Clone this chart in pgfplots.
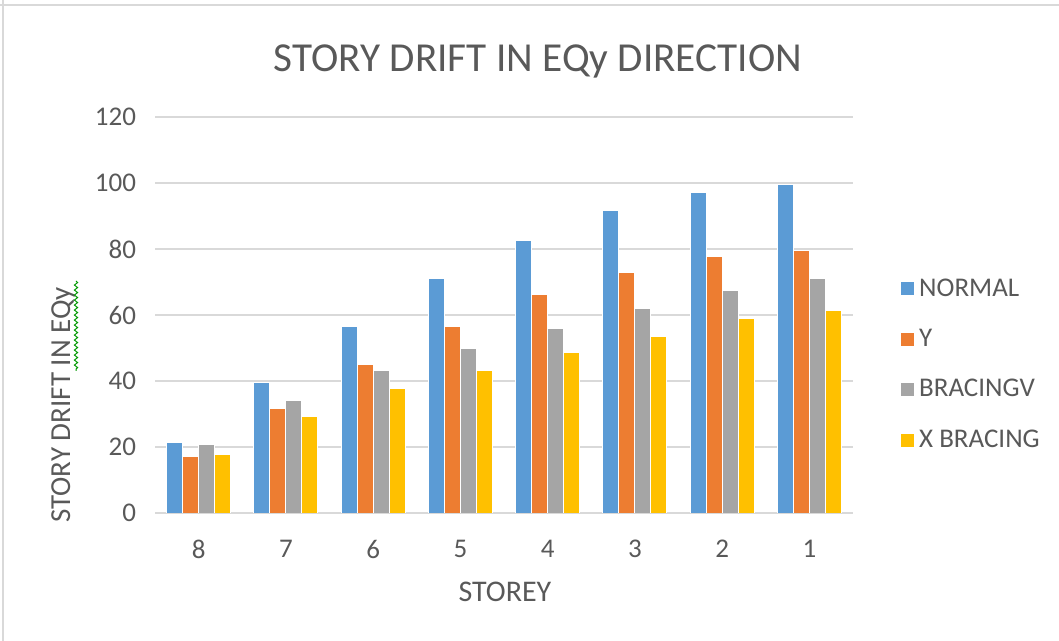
\documentclass[border=0pt]{standalone}
\usepackage{pgfplots}
\pgfplotsset{compat=1.18}
\usepackage{fontspec}
\setmainfont{Carlito}
\usetikzlibrary{decorations.pathmorphing}
\definecolor{cblue}{HTML}{5B9BD5}
\definecolor{corange}{HTML}{ED7D31}
\definecolor{cgray}{HTML}{A5A5A5}
\definecolor{cyellow}{HTML}{FFC000}
\definecolor{ctext}{HTML}{595959}
\definecolor{cgrid}{HTML}{D9D9D9}
\begin{document}
\begin{tikzpicture}[x=1pt,y=1pt]
\path[use as bounding box] (0,0) rectangle (529.5,320.5);
\draw[cgrid,line width=0.8pt] (1.5,320.5) -- (1.5,0);
\draw[cgrid,line width=0.8pt] (0,318) -- (529.5,318);
\begin{axis}[
  at={(77.5pt,64pt)}, anchor=south west,
  scale only axis, width=349pt, height=198pt,
  ybar=0pt, bar width=8pt,
  xmin=-0.5, xmax=7.5, ymin=0, ymax=120,
  xtick=data, xticklabels={8,7,6,5,4,3,2,1},
  ytick={0,20,40,60,80,100,120},
  major tick length=0pt,
  axis x line*=bottom, axis y line*=left,
  x axis line style={cgrid,line width=0.8pt},
  y axis line style={draw=none},
  ymajorgrids, grid style={cgrid,line width=0.8pt},
  tick label style={font=\fontsize{13.5}{16}\selectfont,text=ctext},
  /pgf/number format/assume math mode=true,
  xticklabel style={yshift=-10pt},
  yticklabel style={xshift=-6pt},
  legend style={at={(1.0673,0.603)}, anchor=north west, draw=none,
    font=\fontsize{13.5}{16}\selectfont, text=ctext,
    row sep=11pt, inner sep=0pt, /tikz/every even column/.append style={column sep=3pt}},
  legend cell align=left,
  legend image code/.code={\fill[#1] (0pt,-3.5pt) rectangle (7pt,3.5pt);},
  every axis plot/.append style={draw=white, line width=0.4pt},
]
\addplot[fill=cblue] coordinates {(0,21.3)(1,39.6)(2,56.6)(3,71.0)(4,82.6)(5,91.7)(6,97.2)(7,99.6)};
\addplot[fill=corange] coordinates {(0,17.1)(1,31.6)(2,45.1)(3,56.6)(4,66.2)(5,72.8)(6,77.8)(7,79.6)};
\addplot[fill=cgray] coordinates {(0,20.7)(1,34.0)(2,43.1)(3,49.8)(4,55.9)(5,61.9)(6,67.4)(7,71.0)};
\addplot[fill=cyellow] coordinates {(0,17.7)(1,29.2)(2,37.7)(3,43.1)(4,48.6)(5,53.4)(6,58.9)(7,61.3)};
\legend{NORMAL,Y,BRACINGV,X BRACING}
\end{axis}
\node[text=ctext,font=\fontsize{20.6}{24}\selectfont] at (269,290) {STORY DRIFT IN EQy DIRECTION};
\node[text=ctext,font=\fontsize{15}{18}\selectfont] at (252.5,24.5) {STOREY};
\node[text=ctext,font=\fontsize{14.5}{17}\selectfont,rotate=90] at (31.5,118) {STORY DRIFT IN EQy};
\draw[green!60!black,line width=0.5pt,decorate,decoration={snake,amplitude=0.8pt,segment length=2.5pt}] (38,180) -- (38,135);
\end{tikzpicture}
\end{document}
